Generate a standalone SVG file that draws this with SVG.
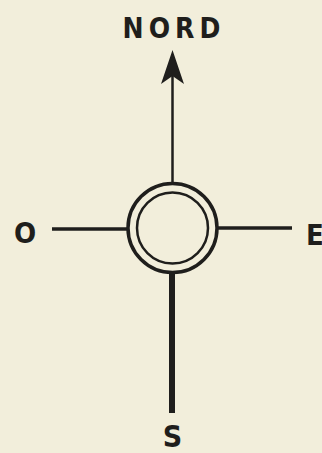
<svg xmlns="http://www.w3.org/2000/svg" width="322" height="453" viewBox="0 0 322 453">
<style>
.ink{stroke:#1f1e1c;fill:none;stroke-linecap:butt}
.lbl{font-family:"DejaVu Sans","Liberation Sans",sans-serif;font-stretch:condensed;font-weight:bold;fill:#1f1e1c}
</style>
<rect width="322" height="453" fill="#f2eedb"/>
<g id="connectors">
<line class="ink" x1="172.5" y1="76" x2="172.5" y2="183" stroke-width="2.5"/>
<path d="M172.5 50 L184 84 L172.5 76 L161 84 Z" fill="#1f1e1c"/>
<line class="ink" x1="52" y1="229" x2="127" y2="229" stroke-width="3.5" stroke-linecap="round"/>
<line class="ink" x1="218" y1="228" x2="292" y2="228" stroke-width="3.5" stroke-linecap="round"/>
<line class="ink" x1="172" y1="273" x2="172" y2="413" stroke-width="6"/>
</g>
<g id="center">
<circle class="ink" cx="172.5" cy="228" r="44.5" stroke-width="3.5"/>
<circle class="ink" cx="172.5" cy="228" r="35.5" stroke-width="2.5"/>
</g>
<g id="nord"><text class="lbl" x="174" y="38" font-size="28" text-anchor="middle" letter-spacing="5">NORD</text></g>
<g id="ouest"><text class="lbl" x="25" y="243" font-size="29" text-anchor="middle">O</text></g>
<g id="est"><text class="lbl" x="306" y="245" font-size="29">E</text></g>
<g id="sud"><text class="lbl" x="172.5" y="447" font-size="30" text-anchor="middle">S</text></g>
</svg>
